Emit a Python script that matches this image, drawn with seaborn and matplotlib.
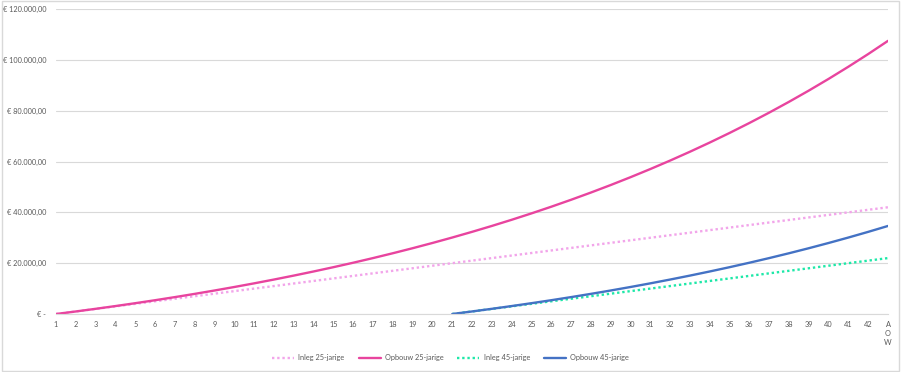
import numpy as np
import pandas as pd
import matplotlib
matplotlib.use("Agg")
import matplotlib.pyplot as plt
from matplotlib.ticker import FuncFormatter
import seaborn as sns

# categories on the x axis (years, last one = AOW)
categories = [str(i) for i in range(1, 43)] + ["A\nO\nW"]

# values (euro)
inleg_25 = [0, 1000, 2000, 3000, 4000, 5000, 6000, 7000, 8000, 9000,
            10000, 11000, 12000, 13000, 14000, 15000, 16000, 17000, 18000, 19000,
            20000, 21000, 22000, 23000, 24000, 25000, 26000, 27000, 28000, 29000,
            30000, 31000, 32000, 33000, 34000, 35000, 36000, 37000, 38000, 39000,
            40000, 41000, 42000]
opbouw_25 = [0, 1000, 2041, 3125, 4253, 5427, 6650, 7922, 9247, 10626,
             12062, 13556, 15112, 16732, 18418, 20173, 22000, 23902, 25882, 27943,
             30089, 32323, 34648, 37068, 39588, 42211, 44942, 47785, 50744, 53824,
             57031, 60369, 63844, 67462, 71228, 75148, 79229, 83478, 87900, 92504,
             97297, 102286, 107480]
inleg_45 = [None] * 20 + [0, 1000, 2000, 3000, 4000, 5000, 6000, 7000, 8000, 9000,
                          10000, 11000, 12000, 13000, 14000, 15000, 16000, 17000,
                          18000, 19000, 20000, 21000, 22000]
opbouw_45 = [None] * 20 + [0, 1000, 2041, 3125, 4253, 5427, 6650, 7922, 9247, 10626,
                           12062, 13556, 15112, 16732, 18418, 20173, 22000, 23902,
                           25882, 27943, 30089, 32323, 34648]

y_ticks = [0, 20000, 40000, 60000, 80000, 100000, 120000]

sns.set_theme(style="white")
plt.rcParams["font.family"] = ["Lato", "DejaVu Sans"]

x = np.arange(1, len(categories) + 1)
df = pd.DataFrame({
    "x": x,
    "Inleg 25-jarige": inleg_25,
    "Opbouw 25-jarige": opbouw_25,
    "Inleg 45-jarige": inleg_45,
    "Opbouw 45-jarige": opbouw_45,
}).astype(float)

fig = plt.figure(figsize=(9.01, 3.72), dpi=100)
ax = fig.add_axes([0.0622, 0.1559, 0.9234, 0.8199])

# series styles
styles = {
    "Inleg 25-jarige": dict(color="#f2a5ea", linestyle=(0, (1.0, 1.2)), linewidth=1.7),
    "Opbouw 25-jarige": dict(color="#e8449e", linestyle="-", linewidth=1.7),
    "Inleg 45-jarige": dict(color="#1ee8a8", linestyle=(0, (1.0, 1.2)), linewidth=1.7),
    "Opbouw 45-jarige": dict(color="#4472c4", linestyle="-", linewidth=1.7),
}

for name, st in styles.items():
    sns.lineplot(data=df, x="x", y=name, ax=ax, label=name, legend=False, **st)

ax.set_xlim(1, len(categories))
ax.set_ylim(0, 120000)
ax.set_xticks(x)
ax.set_xticklabels(categories, va="top", linespacing=1.35)
ax.set_yticks(y_ticks)

def euro(v, pos):
    if v == 0:
        return "€ -"
    return "€ " + f"{v:,.2f}".replace(",", "X").replace(".", ",").replace("X", ".")

ax.yaxis.set_major_formatter(FuncFormatter(euro))
ax.set_xlabel("")
ax.set_ylabel("")

# gridlines and axis like excel
ax.grid(axis="y", color="#d9d9d9", linewidth=0.8)
ax.grid(axis="x", visible=False)
for side in ["left", "right", "top"]:
    ax.spines[side].set_visible(False)
ax.spines["bottom"].set_color("#d9d9d9")
ax.spines["bottom"].set_linewidth(0.8)
ax.tick_params(axis="both", length=0, labelsize=5.3, labelcolor="#595959")
ax.tick_params(axis="x", pad=5)
ax.tick_params(axis="y", pad=7)

# legend centred on the whole chart, like excel
handles, labels = ax.get_legend_handles_labels()
leg = fig.legend(handles, labels, loc="center", bbox_to_anchor=(0.5, 0.038), ncol=4,
                 frameon=False, fontsize=5.3, handlelength=3.0, columnspacing=1.9,
                 handletextpad=0.55)
for t in leg.get_texts():
    t.set_color("#595959")

# chart border
fig.patches.append(plt.Rectangle((0.002, 0.003), 0.996, 0.994, transform=fig.transFigure,
                                 fill=False, edgecolor="#d9d9d9", linewidth=1.0))

plt.savefig("out.png", dpi=100)
